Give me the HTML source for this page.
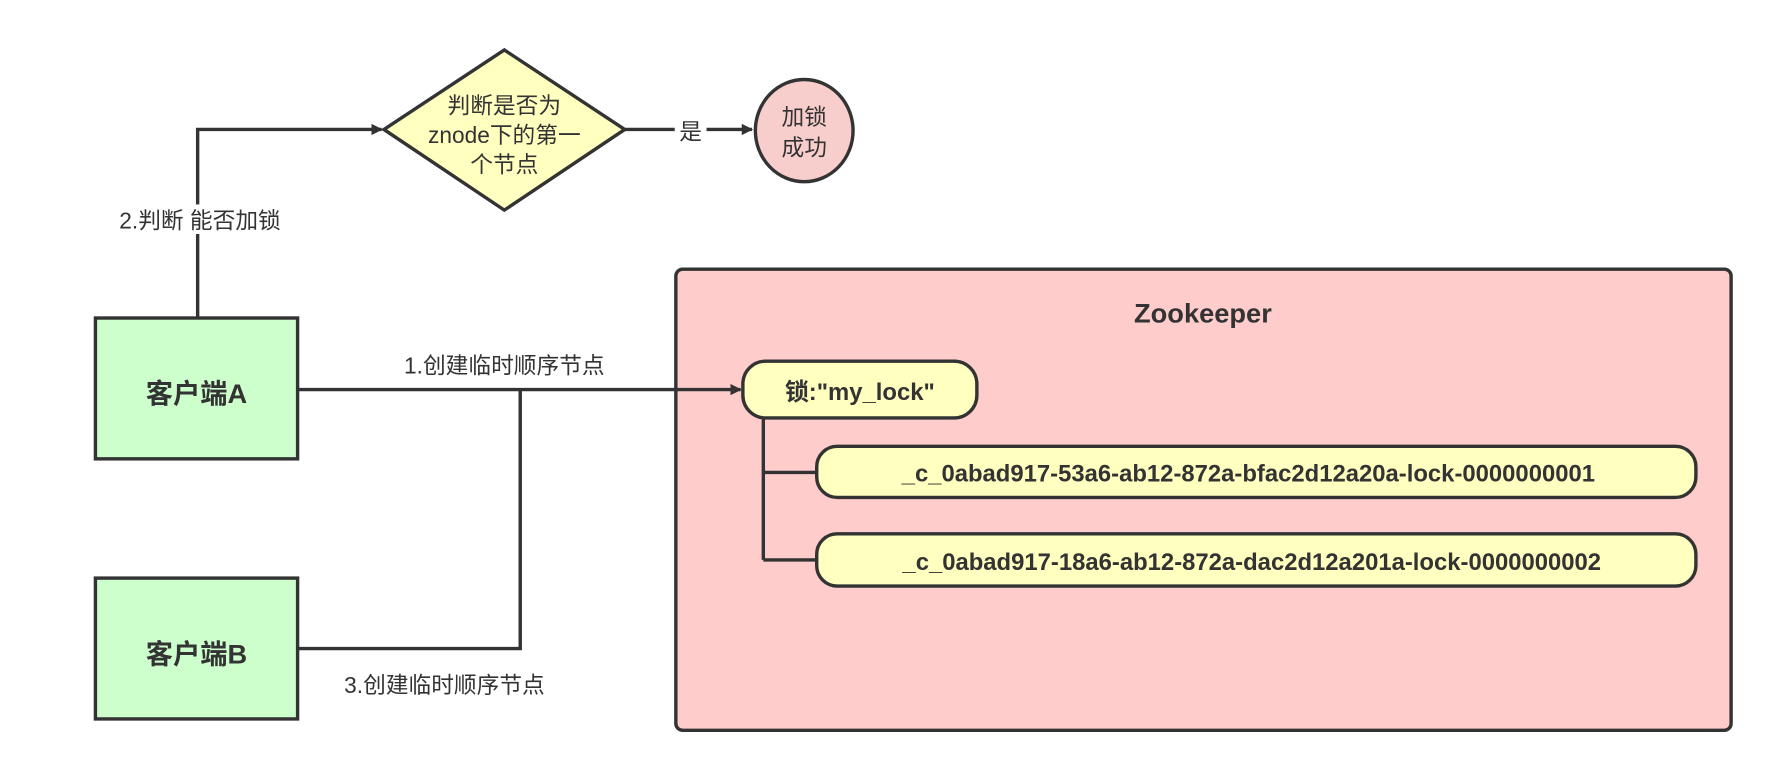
<!DOCTYPE html>
<html><head><meta charset="utf-8"><style>
html,body{margin:0;padding:0;background:#fff;}
svg{display:block;}
text{font-family:"Liberation Sans","Noto Sans CJK SC",sans-serif;fill:#333;}
</style></head><body>
<svg width="1772" height="778" viewBox="0 0 1560 685" preserveAspectRatio="none" xmlns="http://www.w3.org/2000/svg">
<defs>
<marker id="ar" markerWidth="10" markerHeight="10" refX="9" refY="5" orient="auto" markerUnits="userSpaceOnUse" viewBox="0 0 10 10">
<path d="M0,0 L10,5 L0,10 Z" fill="#333"/>
</marker>
</defs>
<!-- Zookeeper -->
<rect x="595" y="237" width="929" height="406" rx="6" fill="#ffcccc" stroke="#333" stroke-width="3"/>
<text x="1059" y="284" font-size="24" font-weight="bold" text-anchor="middle">Zookeeper</text>
<!-- tree lines -->
<path d="M672 368 V493 M672 416 H719 M672 493 H719" stroke="#333" stroke-width="3" fill="none"/>
<rect x="654" y="318" width="206" height="50" rx="20" fill="#ffffc0" stroke="#333" stroke-width="3"/>
<text x="757" y="352" font-size="21" font-weight="bold" text-anchor="middle">锁:"my_lock"</text>
<rect x="719" y="393" width="774" height="45" rx="18" fill="#ffffc0" stroke="#333" stroke-width="3"/>
<text x="1099" y="424" font-size="21" font-weight="bold" text-anchor="middle">_c_0abad917-53a6-ab12-872a-bfac2d12a20a-lock-0000000001</text>
<rect x="719" y="470" width="774" height="46" rx="18" fill="#ffffc0" stroke="#333" stroke-width="3"/>
<text x="1102" y="502" font-size="21" font-weight="bold" text-anchor="middle">_c_0abad917-18a6-ab12-872a-dac2d12a201a-lock-0000000002</text>
<!-- connectors -->
<path d="M174 280 V114 H336" stroke="#333" stroke-width="3" fill="none" marker-end="url(#ar)"/>
<path d="M262 343 H652" stroke="#333" stroke-width="3" fill="none" marker-end="url(#ar)"/>
<path d="M262 571 H458 V343" stroke="#333" stroke-width="3" fill="none"/>
<path d="M550 114 H662" stroke="#333" stroke-width="3" fill="none" marker-end="url(#ar)"/>
<rect x="594" y="102" width="28" height="24" fill="#fff"/>
<text x="608" y="123" font-size="20" text-anchor="middle">是</text>
<!-- diamond -->
<polygon points="444,44 550,114 444,185 338,114" fill="#ffffc0" stroke="#333" stroke-width="3"/>
<text x="444" y="100" font-size="20" text-anchor="middle">判断是否为</text>
<text x="444" y="126" font-size="20" text-anchor="middle">znode下的第一</text>
<text x="444" y="152" font-size="20" text-anchor="middle">个节点</text>
<!-- circle -->
<ellipse cx="708" cy="115" rx="43" ry="45" fill="#f8cecc" stroke="#333" stroke-width="3"/>
<text x="708" y="110" font-size="20" text-anchor="middle">加锁</text>
<text x="708" y="137" font-size="20" text-anchor="middle">成功</text>
<!-- clients -->
<rect x="84" y="280" width="178" height="124" fill="#ccffcc" stroke="#333" stroke-width="3"/>
<text x="173" y="355" font-size="24" font-weight="bold" text-anchor="middle">客户端A</text>
<rect x="84" y="509" width="178" height="124" fill="#ccffcc" stroke="#333" stroke-width="3"/>
<text x="173" y="584" font-size="24" font-weight="bold" text-anchor="middle">客户端B</text>
<!-- labels -->
<rect x="104" y="180" width="162" height="26" fill="#fff"/>
<text x="105" y="201" font-size="20">2.判断 能否加锁</text>
<text x="444" y="329" font-size="20" text-anchor="middle">1.创建临时顺序节点</text>
<text x="303" y="610" font-size="20">3.创建临时顺序节点</text>
</svg>
</body></html>
